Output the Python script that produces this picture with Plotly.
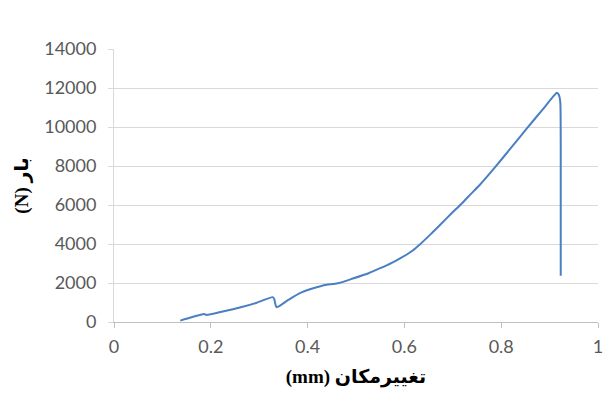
import plotly.graph_objects as go

# Displacement (mm) and load (N)
displacement = [0.137, 0.160, 0.186, 0.191, 0.225, 0.260, 0.295, 0.328, 0.331, 0.336,
                0.360, 0.384, 0.410, 0.439, 0.453, 0.465, 0.490, 0.526, 0.550, 0.575,
                0.591, 0.618, 0.632, 0.655, 0.674, 0.697, 0.7185, 0.737, 0.756, 0.787,
                0.818, 0.853, 0.885, 0.908, 0.915, 0.919, 0.922, 0.923, 0.923]
load = [69, 240, 414, 362, 540, 741, 990, 1276, 1180, 759,
        1130, 1483, 1720, 1914, 1948, 2000, 2200, 2500, 2760, 3050,
        3260, 3680, 3980, 4520, 4990, 5560, 6080, 6560, 7040, 7930,
        8860, 9930, 10880, 11580, 11760, 11650, 11300, 9000, 2370]

x_ticks = [0, 0.2, 0.4, 0.6, 0.8, 1]
x_tick_labels = ["0", "0.2", "0.4", "0.6", "0.8", "1"]
y_ticks = [0, 2000, 4000, 6000, 8000, 10000, 12000, 14000]
y_tick_labels = ["0", "2000", "4000", "6000", "8000", "10000", "12000", "14000"]

x_title = "(mm) تغییرمکان"
y_title = "(N) بار"

fig = go.Figure()
fig.add_trace(go.Scatter(
    x=displacement, y=load, mode="lines",
    line=dict(color="#4a7fc1", width=2, shape="spline", smoothing=0.6),
    showlegend=False, hoverinfo="skip",
))

tick_font = dict(family="Lato, 'Open Sans', sans-serif", size=18, color="#595959")
title_font = dict(family="'Liberation Serif', 'DejaVu Sans', serif", size=19, color="#000000")

fig.update_layout(
    width=606, height=395,
    margin=dict(l=106, r=16, t=41, b=81),
    paper_bgcolor="white", plot_bgcolor="white",
    xaxis=dict(
        range=[0, 1], tickvals=x_ticks, ticktext=x_tick_labels,
        showgrid=False, zeroline=False,
        showline=True, linecolor="#bfbfbf", linewidth=1,
        ticks="outside", ticklen=5, tickcolor="#bfbfbf",
        tickfont=tick_font, ticklabelstandoff=3,
        title=dict(text="<b>" + x_title + "</b>", font=title_font, standoff=14),
    ),
    yaxis=dict(
        range=[0, 14000], tickvals=y_ticks, ticktext=y_tick_labels,
        showgrid=True, gridcolor="#d9d9d9", gridwidth=1, zeroline=False,
        showline=True, linecolor="#d9d9d9", linewidth=1,
        ticks="outside", ticklen=5, tickcolor="#d9d9d9",
        tickfont=tick_font, ticklabelstandoff=8,
        title=dict(text="<b>" + y_title + "</b>", font=title_font, standoff=10),
    ),
    shapes=[dict(type="line", xref="paper", yref="paper",
                 x0=1.025, x1=1.025, y0=-0.3, y1=1.2,
                 line=dict(color="#d0d0d0", width=1))],
)

fig.write_html("out.html")
